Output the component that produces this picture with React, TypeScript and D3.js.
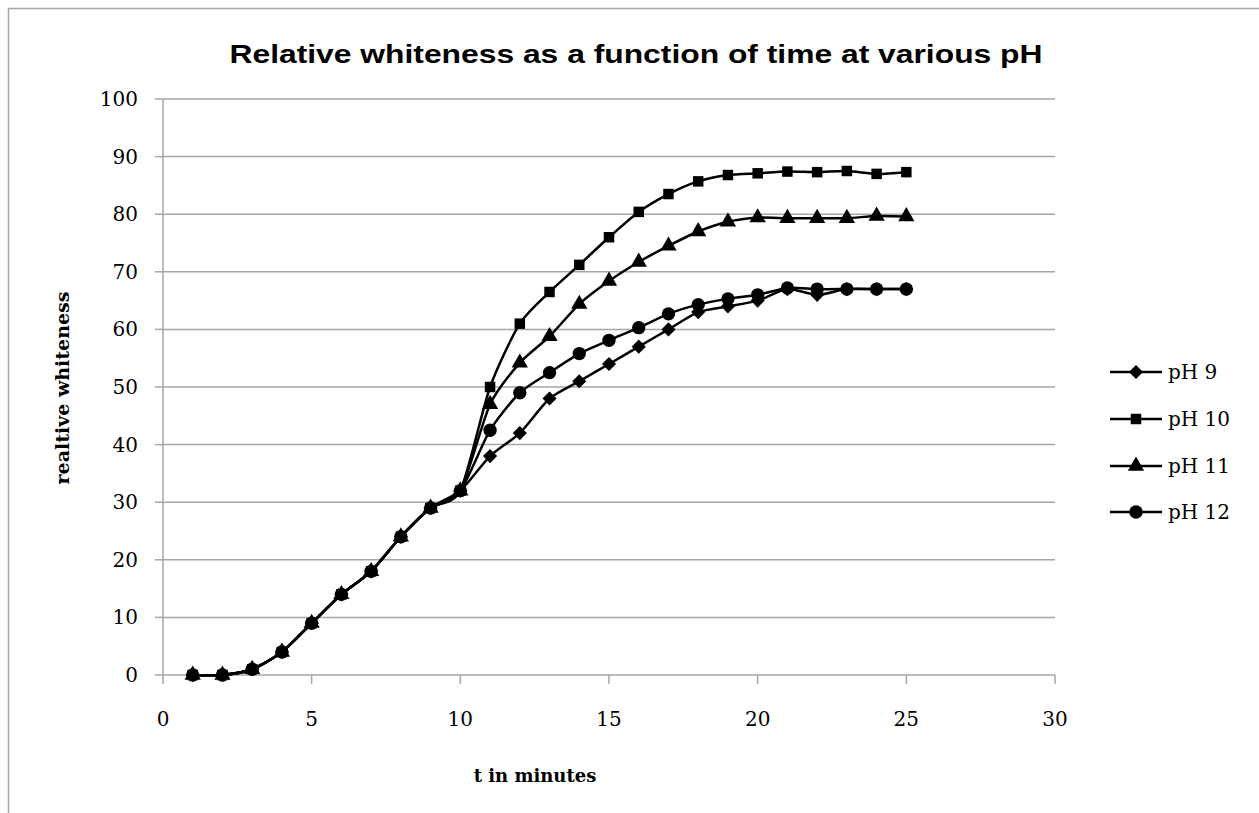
import React from "react";
import * as d3 from "d3";

const times = [1, 2, 3, 4, 5, 6, 7, 8, 9, 10, 11, 12, 13, 14, 15, 16, 17, 18, 19, 20, 21, 22, 23, 24, 25];
const pH9 = [0, 0, 1, 4, 9, 14, 18, 24, 29, 32, 38, 42, 48, 51, 54, 57, 60, 63, 64, 65, 67, 66, 67, 67, 67];
const pH10 = [0, 0, 1, 4, 9, 14, 18, 24, 29, 32, 50, 61, 66.5, 71.2, 76, 80.4, 83.5, 85.7, 86.8, 87.1, 87.4, 87.3, 87.5, 87, 87.3];
const pH11 = [0, 0, 1, 4, 9, 14, 18, 24, 29, 32, 47, 54.2, 58.8, 64.4, 68.4, 71.7, 74.5, 77, 78.7, 79.4, 79.3, 79.3, 79.3, 79.7, 79.6];
const pH12 = [0, 0, 1, 4, 9, 14, 18, 24, 29, 32, 42.5, 49, 52.5, 55.8, 58.1, 60.3, 62.7, 64.3, 65.3, 66, 67.2, 67, 67, 67, 67];
const seriesNames = ["pH 9", "pH 10", "pH 11", "pH 12"];
const seriesValues = [pH9, pH10, pH11, pH12];
const markerTypes = [d3.symbolSquare, d3.symbolSquare, d3.symbolTriangle, d3.symbolCircle];
const markerRotate = [45, 0, 0, 0];
const markerSizes = [100, 110, 115, 140];
const xTicks = [0, 5, 10, 15, 20, 25, 30];
const yTicks = [0, 10, 20, 30, 40, 50, 60, 70, 80, 90, 100];

export default function App() {
  const x = d3.scaleLinear().domain([0, 30]).range([163, 1055]);
  const y = d3.scaleLinear().domain([0, 100]).range([675, 99]);
  const line = d3
    .line<number>()
    .x((_, i) => x(times[i]))
    .y((v) => y(v))
    .curve(d3.curveCardinal.tension(0.3));
  const grid = "#a6a6a6";
  const serif = "'DejaVu Serif', serif";
  const legendY = [372, 419, 466, 512];
  const sym = (si: number) => d3.symbol().type(markerTypes[si]).size(markerSizes[si])() || "";
  return (
    <svg width={1259} height={813} style={{ position: "absolute", left: 0, top: 0, background: "#fff" }}>
      <rect x={8.5} y={8.5} width={1300} height={900} fill="#fff" stroke={grid} strokeWidth={1.5} />
      <text
        x={636}
        y={63}
        textAnchor="middle"
        fontFamily="'Liberation Sans', Arial, sans-serif"
        fontWeight="bold"
        fontSize={25}
        textLength={813}
        lengthAdjust="spacingAndGlyphs"
      >
        Relative whiteness as a function of time at various pH
      </text>
      {yTicks.map((t) => (
        <g key={"y" + t}>
          {t > 0 && <line x1={163} x2={1055} y1={y(t)} y2={y(t)} stroke={grid} strokeWidth={1.5} />}
          <line x1={155} x2={163} y1={y(t)} y2={y(t)} stroke={grid} strokeWidth={1.5} />
          <text x={138} y={y(t) + 7} textAnchor="end" fontFamily={serif} fontSize={20}>
            {t}
          </text>
        </g>
      ))}
      <line x1={163} x2={163} y1={99} y2={675} stroke={grid} strokeWidth={1.5} />
      <line x1={163} x2={1055} y1={675} y2={675} stroke={grid} strokeWidth={1.5} />
      {xTicks.map((t) => (
        <g key={"x" + t}>
          <line x1={x(t)} x2={x(t)} y1={675} y2={684} stroke={grid} strokeWidth={1.5} />
          <text x={x(t)} y={726} textAnchor="middle" fontFamily={serif} fontSize={20}>
            {t}
          </text>
        </g>
      ))}
      <text x={535} y={782} textAnchor="middle" fontFamily={serif} fontWeight="bold" fontSize={18}>
        t in minutes
      </text>
      <text
        transform={`translate(69,388) rotate(-90)`}
        textAnchor="middle"
        fontFamily={serif}
        fontWeight="bold"
        fontSize={19}
      >
        realtive whiteness
      </text>
      {seriesValues.map((vals, si) => (
        <g key={"s" + si}>
          <path d={line(vals) || ""} fill="none" stroke="#000" strokeWidth={2.5} />
          {vals.map((v, i) => (
            <path
              key={i}
              transform={`translate(${x(times[i])},${y(v)}) rotate(${markerRotate[si]})`}
              d={sym(si)}
              fill="#000"
            />
          ))}
        </g>
      ))}
      {seriesNames.map((n, si) => (
        <g key={"l" + si}>
          <line x1={1110} x2={1162} y1={legendY[si]} y2={legendY[si]} stroke="#000" strokeWidth={2.5} />
          <path transform={`translate(1136,${legendY[si]}) rotate(${markerRotate[si]})`} d={sym(si)} fill="#000" />
          <text x={1168} y={legendY[si] + 7} fontFamily={serif} fontSize={20}>
            {n}
          </text>
        </g>
      ))}
    </svg>
  );
}
